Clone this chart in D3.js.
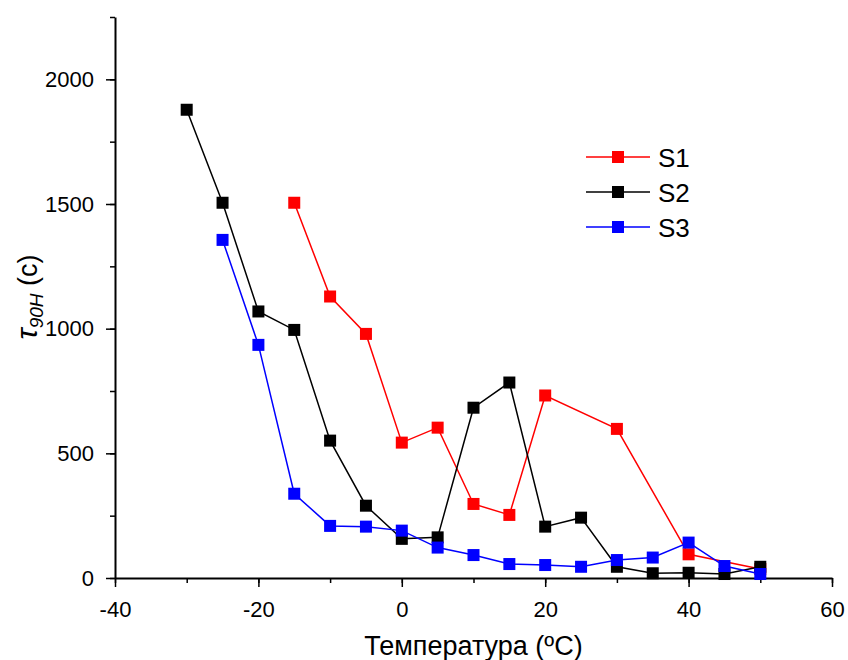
<!DOCTYPE html>
<html>
<head>
<meta charset="utf-8">
<script src="https://cdn.jsdelivr.net/npm/d3@7"></script>
<style>
  body { margin: 0; background: #fff; }
  svg { font-family: "Liberation Sans", Arial, sans-serif; }
</style>
</head>
<body>
<div id="chart"></div>
<script>
// temperatures (ºC) and tau values per series
const tempsS1 = [-15, -10, -5, 0, 5, 10, 15, 20, 30, 40, 50];
const valuesS1 = [1505, 1129, 979, 543, 603, 297, 253, 732, 598, 95, 36];

const tempsS2 = [-30, -25, -20, -15, -10, -5, 0, 5, 10, 15, 20, 25, 30, 35, 40, 45, 50];
const valuesS2 = [1878, 1505, 1069, 995, 551, 290, 157, 163, 683, 784, 206, 242, 45, 19, 21, 16, 45];

const tempsS3 = [-25, -20, -15, -10, -5, 0, 5, 10, 15, 20, 25, 30, 35, 40, 45, 50];
const valuesS3 = [1356, 935, 338, 209, 206, 190, 122, 92, 56, 52, 45, 72, 82, 142, 48, 16];

const seriesNames = ["S1", "S2", "S3"];
const seriesColors = ["#ff0000", "#000000", "#0000ff"];

const xTicks = [-40, -20, 0, 20, 40, 60];
const yTicks = [0, 500, 1000, 1500, 2000];

const width = 848;
const height = 660;
const marginTop = 17;
const marginRight = 16;
const marginBottom = 82;
const marginLeft = 115;

const series = [
  { name: seriesNames[0], color: seriesColors[0], data: tempsS1.map((t, i) => ({ t, v: valuesS1[i] })) },
  { name: seriesNames[1], color: seriesColors[1], data: tempsS2.map((t, i) => ({ t, v: valuesS2[i] })) },
  { name: seriesNames[2], color: seriesColors[2], data: tempsS3.map((t, i) => ({ t, v: valuesS3[i] })) }
];

const x = d3.scaleLinear()
  .domain([-40, 60])
  .range([marginLeft, width - marginRight]);

const y = d3.scaleLinear()
  .domain([0, 2250])
  .range([height - marginBottom, marginTop]);

const svg = d3.select("#chart")
  .append("svg")
  .attr("width", width)
  .attr("height", height);

const plain = d => String(d);

// minor ticks
svg.append("g")
  .attr("transform", `translate(0,${height - marginBottom})`)
  .call(d3.axisBottom(x).tickValues(d3.range(-40, 61, 10)).tickSize(5).tickFormat(""))
  .call(g => g.select(".domain").remove())
  .call(g => g.selectAll("line").attr("stroke-width", 1.5));

svg.append("g")
  .attr("transform", `translate(${marginLeft},0)`)
  .call(d3.axisLeft(y).tickValues(d3.range(0, 2251, 250)).tickSize(5).tickFormat(""))
  .call(g => g.select(".domain").remove())
  .call(g => g.selectAll("line").attr("stroke-width", 1.5));

// major axes
svg.append("g")
  .attr("transform", `translate(0,${height - marginBottom})`)
  .call(d3.axisBottom(x).tickValues(xTicks).tickFormat(plain).tickSize(9).tickPadding(14).tickSizeOuter(0))
  .call(g => g.select(".domain").attr("stroke-width", 2))
  .call(g => g.selectAll("line").attr("stroke-width", 1.5))
  .call(g => g.selectAll("text").attr("font-size", 22).attr("font-family", "Liberation Sans, Arial, sans-serif").attr("fill", "#000"));

svg.append("g")
  .attr("transform", `translate(${marginLeft},0)`)
  .call(d3.axisLeft(y).tickValues(yTicks).tickFormat(plain).tickSize(9).tickPadding(12).tickSizeOuter(0))
  .call(g => g.select(".domain").attr("stroke-width", 2))
  .call(g => g.selectAll("line").attr("stroke-width", 1.5))
  .call(g => g.selectAll("text").attr("font-size", 22).attr("font-family", "Liberation Sans, Arial, sans-serif").attr("fill", "#000"));

// axis titles
svg.append("text")
  .attr("x", (x(-40) + x(60)) / 2)
  .attr("y", 655)
  .attr("text-anchor", "middle")
  .attr("font-size", 27)
  .text("Температура (ºC)");

const yLabel = svg.append("text")
  .attr("transform", "translate(37,297) rotate(-90)")
  .attr("text-anchor", "middle")
  .attr("font-size", 27);
yLabel.append("tspan").attr("font-style", "italic").attr("font-size", 30).text("τ");
yLabel.append("tspan").attr("font-style", "italic").attr("font-size", 19).attr("dy", 6).text("90H");
yLabel.append("tspan").attr("dy", -6).text(" (c)");

// lines and markers
const line = d3.line()
  .x(d => x(d.t))
  .y(d => y(d.v));

const markerSize = 12;

series.forEach(s => {
  svg.append("path")
    .datum(s.data)
    .attr("fill", "none")
    .attr("stroke", s.color)
    .attr("stroke-width", 1.5)
    .attr("d", line);

  svg.append("g")
    .selectAll("rect")
    .data(s.data)
    .join("rect")
    .attr("x", d => x(d.t) - markerSize / 2)
    .attr("y", d => y(d.v) - markerSize / 2)
    .attr("width", markerSize)
    .attr("height", markerSize)
    .attr("fill", s.color);
});

// legend
const legend = svg.append("g");
series.forEach((s, i) => {
  const cy = 157 + i * 35;
  legend.append("line")
    .attr("x1", 586).attr("x2", 650)
    .attr("y1", cy).attr("y2", cy)
    .attr("stroke", s.color)
    .attr("stroke-width", 1.5);
  legend.append("rect")
    .attr("x", 618 - 6).attr("y", cy - 6)
    .attr("width", 12).attr("height", 12)
    .attr("fill", s.color);
  legend.append("text")
    .attr("x", 658)
    .attr("y", cy + 9.5)
    .attr("font-size", 26)
    .text(s.name);
});
</script>
</body>
</html>
